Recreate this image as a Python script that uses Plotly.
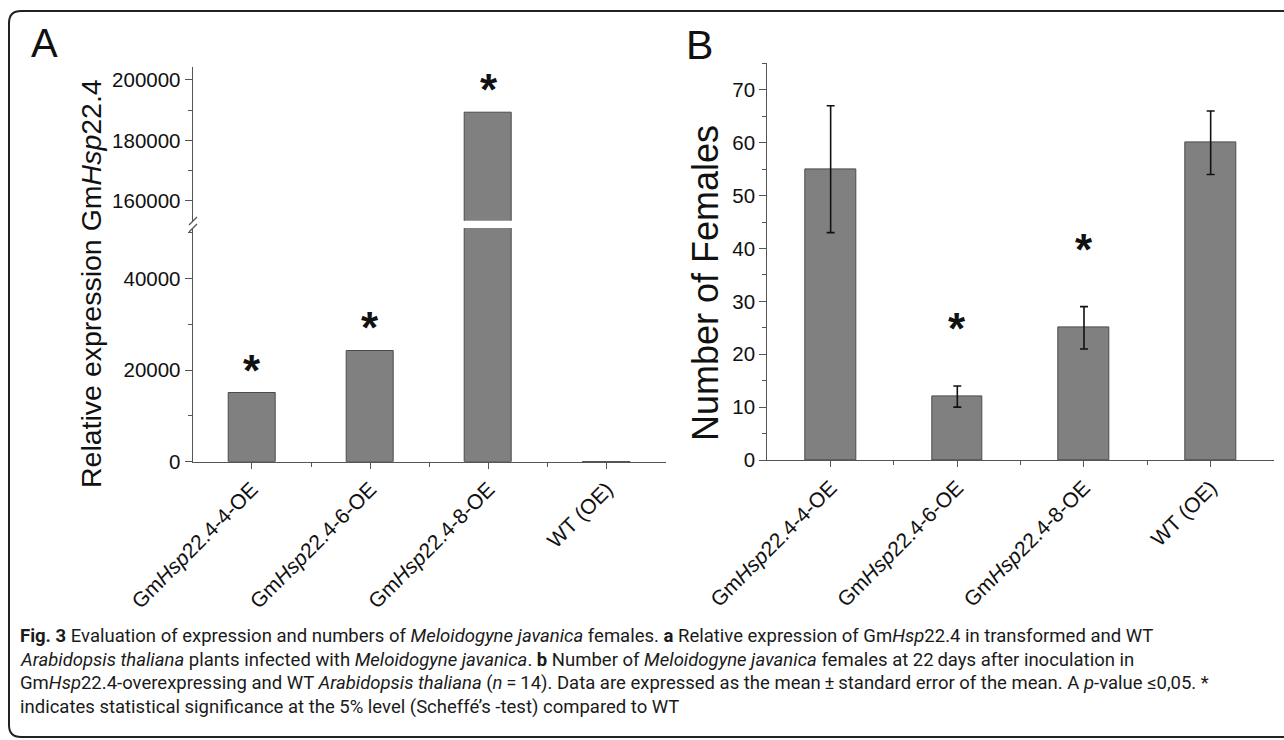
import plotly.graph_objects as go

# ---------------- data ----------------
categories = ["Gm<i>Hsp</i>22.4-4-OE", "Gm<i>Hsp</i>22.4-6-OE", "Gm<i>Hsp</i>22.4-8-OE", "WT (OE)"]
expression = [14900, 24200, 189300, 40]          # panel A
expr_signif = [True, True, True, False]
females_mean = [55, 12, 25, 60]                  # panel B
females_se = [12, 2, 4, 6]
females_signif = [False, True, True, False]

W, H = 1284, 740
FONT = "Liberation Sans, Arial, sans-serif"
BAR = "#808080"
BAR_LINE = "#4a4a4a"
AX = "#555555"

def px(x):
    return x / W

def py(y):
    return 1 - y / H

xpos = list(range(len(categories)))

fig = go.Figure()

# Panel A: lower and upper part (broken axis)
for yax in ["y", "y2"]:
    fig.add_trace(go.Bar(
        x=xpos, y=expression, xaxis="x" if yax == "y" else "x2", yaxis=yax,
        width=0.40, marker=dict(color=BAR, line=dict(color=BAR_LINE, width=1)),
        showlegend=False, hoverinfo="skip"))

# Panel B
fig.add_trace(go.Bar(
    x=xpos, y=females_mean, xaxis="x3", yaxis="y3", width=0.40,
    marker=dict(color=BAR, line=dict(color=BAR_LINE, width=1)),
    error_y=dict(type="data", array=females_se, color="#111111", thickness=1.6, width=4),
    showlegend=False, hoverinfo="skip"))

tickfont = dict(family=FONT, size=20.5, color="#111111")
xtickfont = dict(family=FONT, size=21, color="#111111")

A_x = [px(192.7), px(666)]
B_x = [px(767.3), px(1274)]

common_x = dict(range=[-0.5, 3.5], showline=True, linecolor=AX, linewidth=1.2,
                showgrid=False, zeroline=False, ticks="outside", ticklen=6,
                tickcolor=AX, tickwidth=1.2, tickvals=xpos, ticktext=categories,
                tickangle=-45, tickfont=xtickfont, automargin=False,
                minor=dict(tickmode="array", tickvals=[0.5, 1.5, 2.5], ticks="outside",
                           ticklen=4, tickcolor=AX, tickwidth=1))
common_y = dict(showline=True, linecolor=AX, linewidth=1.2, showgrid=False,
                zeroline=False, ticks="outside", ticklen=7, tickcolor=AX, tickwidth=1.2,
                tickfont=tickfont, tickformat="d", automargin=False)

fig.update_layout(
    template="none",
    width=W, height=H, margin=dict(l=0, r=0, t=0, b=0, pad=0, autoexpand=False),
    paper_bgcolor="white", plot_bgcolor="white", bargap=0,
    xaxis=dict(domain=A_x, anchor="y", **common_x),
    yaxis=dict(domain=[py(461.7), py(228)], anchor="x", range=[0, 51000],
               tickvals=[0, 20000, 40000],
               minor=dict(dtick=10000, ticks="outside", ticklen=4, tickcolor=AX, tickwidth=1),
               **common_y),
    xaxis2=dict(domain=A_x, anchor="y2", range=[-0.5, 3.5], visible=False,
                matches="x", automargin=False),
    yaxis2=dict(domain=[py(220.7), py(66.7)], anchor="x2", range=[153400, 204400],
                tickvals=[160000, 180000, 200000],
                minor=dict(dtick=10000, ticks="outside", ticklen=4, tickcolor=AX, tickwidth=1),
                **common_y),
    xaxis3=dict(domain=B_x, anchor="y3", **common_x),
    yaxis3=dict(domain=[py(460), py(63.4)], anchor="x3", range=[0, 75],
                tickvals=[0, 10, 20, 30, 40, 50, 60, 70],
                minor=dict(dtick=5, ticks="outside", ticklen=4, tickcolor=AX, tickwidth=1),
                **common_y),
)

ann = []
STAR = dict(family=FONT, size=44, color="#111111")
# significance stars, panel A
for i, (v, s) in enumerate(zip(expression, expr_signif)):
    if s:
        ref = "y2" if v > 51000 else "y"
        ann.append(dict(x=i, y=v, xref="x", yref=ref, text="<b>*</b>", showarrow=False,
                        xanchor="center", yanchor="middle", yshift=23, font=STAR))
# significance stars, panel B
for i, (m, e, s) in enumerate(zip(females_mean, females_se, females_signif)):
    if s:
        ann.append(dict(x=i, y=m + e, xref="x3", yref="y3", text="<b>*</b>", showarrow=False,
                        xanchor="center", yanchor="middle", yshift=57, font=STAR))

# axis titles
ann.append(dict(x=px(91), y=py(283), xref="paper", yref="paper", textangle=-90,
                xanchor="center", yanchor="middle",
                text="Relative expression Gm<i>Hsp</i>22.4", showarrow=False,
                font=dict(family=FONT, size=28.5, color="#111111")))
ann.append(dict(x=px(705), y=py(283), xref="paper", yref="paper", textangle=-90,
                xanchor="center", yanchor="middle",
                text="Number of Females", showarrow=False,
                font=dict(family=FONT, size=36, color="#111111")))
# panel letters
ann.append(dict(x=px(29), y=py(43), xref="paper", yref="paper", text="A", showarrow=False,
                xanchor="left", yanchor="middle", font=dict(family=FONT, size=40, color="#111111")))
ann.append(dict(x=px(684), y=py(45), xref="paper", yref="paper", text="B", showarrow=False,
                xanchor="left", yanchor="middle", font=dict(family=FONT, size=41, color="#111111")))

# caption
caption_lines = [
    "<b>Fig. 3</b> Evaluation of expression and numbers of <i>Meloidogyne javanica</i> females. <b>a</b> Relative expression of Gm<i>Hsp</i>22.4 in transformed and WT",
    "<i>Arabidopsis thaliana</i> plants infected with <i>Meloidogyne javanica</i>. <b>b</b> Number of <i>Meloidogyne javanica</i> females at 22\u2009days after inoculation in",
    "Gm<i>Hsp</i>22.4-overexpressing and WT <i>Arabidopsis thaliana</i> (<i>n</i>\u2009=\u200914). Data are expressed as the mean\u2009\u00b1\u2009standard error of the mean. A <i>p</i>-value \u22640,05. *",
    "indicates statistical significance at the 5% level (Scheff\u00e9\u2019s -test) compared to WT",
]
cap_y = [636, 659.5, 683, 706.5]
for line, yy in zip(caption_lines, cap_y):
    ann.append(dict(x=px(18), y=py(yy), xref="paper", yref="paper", text=line,
                    showarrow=False, xanchor="left", yanchor="middle", align="left",
                    font=dict(family="Roboto, sans-serif", size=18.5, color="#1a1a1a")))
fig.update_layout(annotations=ann)

# frame and axis-break marks
r = 12
x0, y0, x1, y1 = 9, 11, 1300, 737
path = (f"M {px(x0 + r)},{py(y0)} L {px(x1)},{py(y0)} M {px(x1)},{py(y1)} "
        f"L {px(x0 + r)},{py(y1)} Q {px(x0)},{py(y1)} {px(x0)},{py(y1 - r)} "
        f"L {px(x0)},{py(y0 + r)} Q {px(x0)},{py(y0)} {px(x0 + r)},{py(y0)}")
shapes = [dict(type="path", path=path, xref="paper", yref="paper",
               line=dict(color="#222222", width=2))]
for (ax0, ay0, ax1, ay1) in [(189, 225, 197, 217), (189, 232, 197, 224)]:
    shapes.append(dict(type="line", xref="paper", yref="paper", x0=px(ax0), y0=py(ay0),
                       x1=px(ax1), y1=py(ay1), line=dict(color=AX, width=1.2)))
fig.update_layout(shapes=shapes)

fig.write_html("out.html", config=dict(displayModeBar=False),
               post_script="document.body.style.margin='0';document.body.style.overflow='hidden';")
